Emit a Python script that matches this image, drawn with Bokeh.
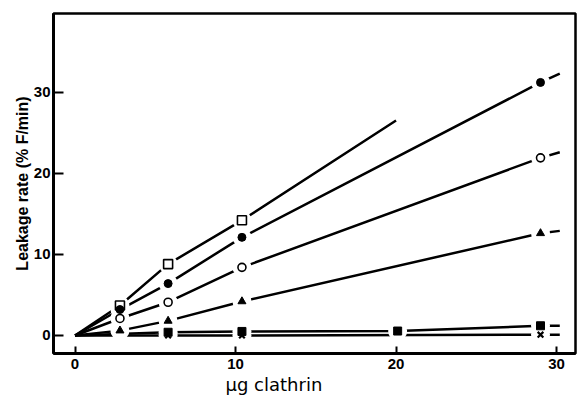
from bokeh.plotting import figure
from bokeh.models import Range1d, FixedTicker, Title
from bokeh.embed import file_html
from bokeh.resources import INLINE

# ---- data ----
open_sq_x = [2.8, 5.8, 10.4]
open_sq_y = [3.7, 8.8, 14.2]
open_sq_end = (20.0, 26.5)

fill_circ_x = [2.8, 5.8, 10.4, 29.0]
fill_circ_y = [3.2, 6.4, 12.1, 31.2]
fill_circ_end = (30.2, 32.3)

open_circ_x = [2.8, 5.8, 10.4, 29.0]
open_circ_y = [2.1, 4.1, 8.4, 21.9]
open_circ_end = (30.2, 22.6)

tri_x = [2.8, 5.8, 10.4, 29.0]
tri_y = [0.6, 1.8, 4.2, 12.6]
tri_end = (30.2, 12.9)

fill_sq_x = [5.8, 10.4, 20.1, 29.0]
fill_sq_y = [0.4, 0.5, 0.55, 1.2]
fill_sq_end = (30.2, 1.2)

cross_x = [5.8, 10.4, 29.0]
cross_y = [0.0, 0.0, 0.1]
cross_end = (30.2, 0.1)

x_ticks = [0, 10, 20, 30]
y_ticks = [0, 10, 20, 30]

x_label = "μg clathrin"
y_label = "Leakage rate (% F/min)"

# ---- figure ----
p = figure(width=577, height=396, output_backend="svg", toolbar_location=None,
           x_range=Range1d(-1.34, 31.18), y_range=Range1d(-2.22, 39.70),
           min_border_left=53, min_border_right=2, min_border_top=13, min_border_bottom=43)
p.background_fill_color = "white"
p.border_fill_color = "white"
p.grid.visible = False
p.outline_line_color = "black"
p.outline_line_width = 2.5
p.outline_line_alpha = 1.0

for ax in (p.xaxis[0], p.yaxis[0]):
    ax.axis_line_width = 3
    ax.axis_line_color = "black"
    ax.major_tick_line_width = 2
    ax.major_tick_line_color = "black"
    ax.major_tick_out = 0
    ax.minor_tick_line_color = None
    ax.major_label_text_font = "Liberation Sans"
    ax.major_label_text_font_style = "bold"
    ax.major_label_text_font_size = "15px"
    ax.major_label_text_color = "black"

p.xaxis.ticker = FixedTicker(ticks=x_ticks)
p.yaxis.ticker = FixedTicker(ticks=y_ticks)
p.xaxis.major_tick_in = 7
p.yaxis.major_tick_in = 10
p.xaxis.major_label_standoff = 5
p.yaxis.major_label_standoff = 3

p.yaxis.axis_label = y_label
p.yaxis.axis_label_text_font = "Liberation Sans"
p.yaxis.axis_label_text_font_style = "bold"
p.yaxis.axis_label_text_font_size = "16px"
p.yaxis.axis_label_text_color = "black"
p.yaxis.axis_label_standoff = 0

p.add_layout(Title(text=x_label, align="left", offset=172, standoff=0,
                   text_font="DejaVu Sans", text_font_size="18px",
                   text_font_style="normal", text_color="black"), "below")

series = [
    (open_sq_x, open_sq_y, open_sq_end, dict(marker="square", size=9, fill_color="white", line_color="black", line_width=1.6)),
    (fill_circ_x, fill_circ_y, fill_circ_end, dict(marker="circle", size=8, fill_color="black", line_color="black")),
    (open_circ_x, open_circ_y, open_circ_end, dict(marker="circle", size=8, fill_color="white", line_color="black", line_width=1.6)),
    (tri_x, tri_y, tri_end, dict(marker="triangle", size=8, fill_color="black", line_color="black")),
    (fill_sq_x, fill_sq_y, fill_sq_end, dict(marker="square", size=8, fill_color="black", line_color="black")),
    (cross_x, cross_y, cross_end, dict(marker="x", size=8, line_color="black", line_width=2.2)),
]

# lines from the origin through the points
for xs, ys, end, _ in series:
    lx = [0.0] + list(xs) + [end[0]]
    ly = [0.0] + list(ys) + [end[1]]
    p.line(lx, ly, line_color="black", line_width=2.5)

# white gaps around markers
for xs, ys, end, _ in series:
    p.scatter(xs, ys, marker="circle", size=19, fill_color="white", line_color=None)

# markers
for xs, ys, end, style in series:
    p.scatter(xs, ys, **style)

open("out.html", "w").write(file_html(p, INLINE))
